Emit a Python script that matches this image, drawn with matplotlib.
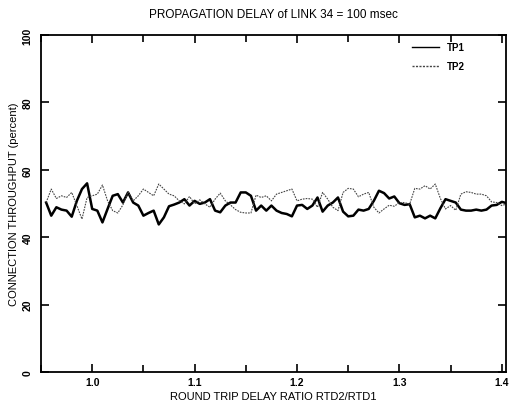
import matplotlib
matplotlib.use("Agg")
import matplotlib.pyplot as plt
import numpy as np
from matplotlib.ticker import MultipleLocator

plt.rcParams['font.family'] = ['Liberation Sans', 'DejaVu Sans']

# round trip delay ratio, step 0.005
ratio = np.round(np.arange(0.955, 1.4051, 0.005), 3)

tp1 = [50.3, 46.4, 48.9, 48.2, 47.9, 46.1, 50.8, 54.3, 56.0, 48.4,
       47.9, 44.4, 48.4, 52.3, 52.8, 50.3, 53.3, 50.3, 49.4, 46.4,
       47.2, 47.9, 43.8, 45.9, 49.2, 49.7, 50.3, 51.3, 49.4, 50.8,
       49.9, 50.3, 51.3, 47.9, 47.4, 49.4, 50.3, 50.3, 53.3, 53.3,
       52.3, 47.9, 49.4, 47.9,
       49.4, 47.9, 47.2, 46.9, 46.2, 49.4, 49.6, 48.4, 49.4, 51.8,
       47.6, 49.4, 50.3, 51.8, 47.6, 46.2, 46.4, 48.2, 47.9, 48.4,
       50.8, 53.8, 53.1, 51.5, 52.1, 50.1, 49.6, 49.8, 45.9, 46.4,
       45.6, 46.4, 45.6, 48.6, 51.3, 50.8, 50.3, 48.2, 47.9, 47.9,
       48.2, 47.9, 48.2, 49.4, 49.6, 50.5, 50.1]

tp2 = [50.3, 54.3, 51.5, 52.3, 51.8, 53.3, 49.4, 45.4, 51.8, 52.3,
       52.8, 55.5, 50.8, 47.9, 47.2, 49.6, 53.5, 50.8, 52.3, 54.3,
       53.3, 52.3, 55.8, 54.3, 52.8, 52.3, 50.8, 49.9, 52.1, 49.9,
       51.1, 49.9, 48.9, 51.3, 53.1, 50.8, 49.6, 48.2, 47.4, 47.2,
       47.2, 52.5, 51.8, 52.3,
       50.8, 52.8, 53.3, 53.8, 54.3, 50.8, 51.3, 51.5, 51.3, 48.9,
       53.3, 51.3, 48.9, 47.9, 53.3, 54.5, 54.3, 52.0, 52.8, 53.3,
       48.9, 47.2, 48.4, 49.5, 49.2, 50.3, 50.3, 49.8, 54.5, 54.3,
       55.3, 54.3, 55.8, 51.5, 48.4, 49.4, 48.0, 52.8, 53.5, 53.3,
       52.8, 52.8, 52.3, 50.5, 50.3, 49.4, 49.9]

fig = plt.figure(figsize=(5.1, 4.1), dpi=100)
ax = fig.add_axes([0.0804, 0.0902, 0.9116, 0.8218])

ax.plot(ratio, tp1, color='black', lw=1.8, label='TP1')
ax.plot(ratio, tp2, color='#444444', lw=0.8, ls=(0, (1.5, 1)), label='TP2')

ax.set_xlim(0.95, 1.404)
ax.set_ylim(0, 100)
ax.xaxis.set_major_locator(MultipleLocator(0.1))
ax.xaxis.set_minor_locator(MultipleLocator(0.05))
ax.yaxis.set_major_locator(MultipleLocator(20))
ax.set_xticks([1.0, 1.1, 1.2, 1.3, 1.4])
ax.set_xticklabels(['1.0', '1.1', '1.2', '1.3', '1.4'])
ax.tick_params(axis='both', which='both', direction='in', top=True, right=True,
               width=1.2, labelsize=7.5)
ax.tick_params(axis='both', which='major', length=6)
ax.tick_params(axis='both', which='minor', length=5)
ax.tick_params(axis='x', which='minor', bottom=True, top=True)
for lab in ax.get_yticklabels():
    lab.set_rotation(90)
    lab.set_va('center')
    lab.set_fontweight('bold')
for lab in ax.get_xticklabels():
    lab.set_fontweight('bold')
ax.tick_params(axis='y', pad=6)

for sp in ax.spines.values():
    sp.set_linewidth(1.3)

ax.set_xlabel('ROUND TRIP DELAY RATIO RTD2/RTD1', fontsize=8, labelpad=3)
ax.set_ylabel('CONNECTION THROUGHPUT (percent)', fontsize=8, labelpad=3)
ax.set_title('PROPAGATION DELAY of LINK 34 = 100 msec', fontsize=8.5, pad=13)

leg = ax.legend(loc='upper right', bbox_to_anchor=(0.92, 0.99), frameon=False,
                handlelength=2.8, borderaxespad=0, labelspacing=0.9,
                handletextpad=0.8, prop={'weight': 'bold', 'size': 7})
for ln in leg.get_lines():
    ln.set_linewidth(1.0)

fig.savefig('out.png', dpi=100)
